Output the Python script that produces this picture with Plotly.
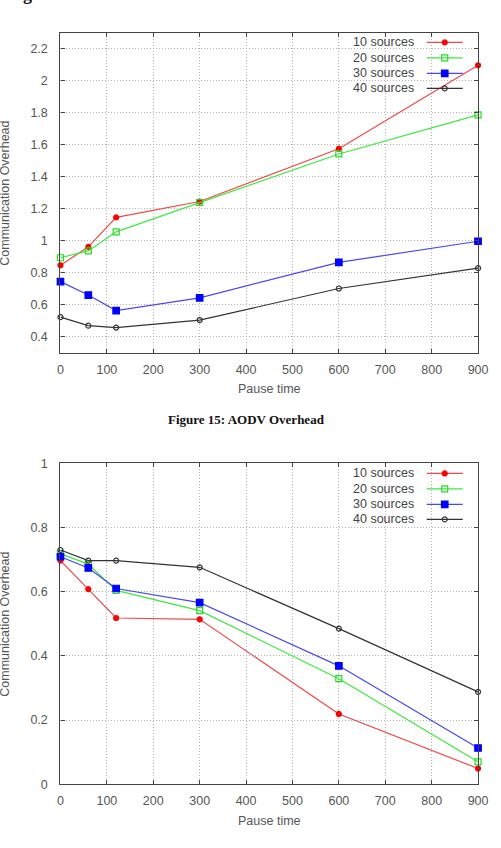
import plotly.graph_objects as go

# ---------------- data ----------------
pause_time = [0, 60, 120, 300, 600, 900]
series_names = ["10 sources", "20 sources", "30 sources", "40 sources"]

aodv_10 = [0.847, 0.962, 1.146, 1.245, 1.575, 2.096]
aodv_20 = [0.894, 0.937, 1.056, 1.239, 1.542, 1.786]
aodv_30 = [0.745, 0.661, 0.564, 0.644, 0.865, 0.997]
aodv_40 = [0.523, 0.470, 0.458, 0.505, 0.702, 0.829]

dsr_10 = [0.697, 0.608, 0.518, 0.514, 0.219, 0.049]
dsr_20 = [0.718, 0.686, 0.604, 0.541, 0.329, 0.070]
dsr_30 = [0.709, 0.674, 0.610, 0.566, 0.369, 0.113]
dsr_40 = [0.730, 0.697, 0.697, 0.676, 0.485, 0.288]

x_ticks = [0, 100, 200, 300, 400, 500, 600, 700, 800, 900]
top_y_ticks = [0.4, 0.6, 0.8, 1.0, 1.2, 1.4, 1.6, 1.8, 2.0, 2.2]
top_y_labels = ["0.4", "0.6", "0.8", "1", "1.2", "1.4", "1.6", "1.8", "2", "2.2"]
bot_y_ticks = [0, 0.2, 0.4, 0.6, 0.8, 1.0]
bot_y_labels = ["0", "0.2", "0.4", "0.6", "0.8", "1"]

x_title = "Pause time"
y_title = "Communication Overhead"
caption = "Figure 15: AODV Overhead"

# ---------------- styles ----------------
W, H = 501, 848
FONT = "Liberation Sans"
TXT = "#555555"
styles = [
    dict(line="#f04848", mcolor="#ff0000", symbol="circle", size=5),
    dict(line="#3ee83e", mcolor="#22dd22", symbol="square-open", size=6),
    dict(line="#4848f0", mcolor="#0000ff", symbol="square", size=6.5),
    dict(line="#333333", mcolor="#333333", symbol="circle-open", size=5),
]

def px_x(p):
    return p / W

def px_y(p):
    return 1 - p / H

plot_left, plot_right = 59, 487.7
top_box = (26, 351.7)
bot_box = (464, 790.3)

fig = go.Figure()

for ax_suffix, data in (("", [aodv_10, aodv_20, aodv_30, aodv_40]),
                        ("2", [dsr_10, dsr_20, dsr_30, dsr_40])):
    for name, vals, st in zip(series_names, data, styles):
        fig.add_trace(go.Scatter(
            x=pause_time, y=vals, name=name, mode="lines+markers",
            xaxis="x" + ax_suffix, yaxis="y" + ax_suffix,
            line=dict(color=st["line"], width=1.2),
            marker=dict(symbol=st["symbol"], size=st["size"], color=st["mcolor"],
                        line=dict(color=st["mcolor"], width=1.2)),
            showlegend=False, cliponaxis=False,
        ))

# ----- manual gnuplot-style legends (pixel overlay axis) -----
legend_rows = {"top": [36, 51.7, 67.4, 82.7], "bot": [474.3, 490, 505.7, 521]}
annotations = []
for key, rows in legend_rows.items():
    for name, st, yy in zip(series_names, styles, rows):
        fig.add_trace(go.Scatter(
            x=[435, 472], y=[yy, yy], mode="lines", xaxis="x3", yaxis="y3",
            line=dict(color=st["line"], width=1.2), showlegend=False, hoverinfo="skip"))
        fig.add_trace(go.Scatter(
            x=[453.5], y=[yy], mode="markers", xaxis="x3", yaxis="y3",
            marker=dict(symbol=st["symbol"], size=st["size"], color=st["mcolor"],
                        line=dict(color=st["mcolor"], width=1.2)),
            showlegend=False, hoverinfo="skip"))
        annotations.append(dict(
            text=name, x=px_x(424), y=px_y(yy), xref="paper", yref="paper",
            xanchor="right", yanchor="middle", showarrow=False,
            font=dict(family=FONT, size=12.5, color="#444444")))

# axis titles
for box in (top_box, bot_box):
    annotations.append(dict(
        text=x_title, x=px_x((plot_left + plot_right) / 2), y=px_y(box[1] + 37),
        xref="paper", yref="paper", xanchor="center", yanchor="middle",
        showarrow=False, font=dict(family=FONT, size=12.5, color=TXT)))
    annotations.append(dict(
        text=y_title, x=px_x(2), y=px_y((box[0] + box[1]) / 2),
        xref="paper", yref="paper", xanchor="center", yanchor="middle",
        textangle=-90, showarrow=False, font=dict(family=FONT, size=12.5, color=TXT)))

annotations.append(dict(
    text="<b>" + caption + "</b>", x=px_x(250), y=px_y(419.5), xref="paper", yref="paper",
    xanchor="center", yanchor="middle", showarrow=False,
    font=dict(family="Liberation Serif", size=13, color="#111111")))

annotations.append(dict(
    text="<b>g</b>", x=px_x(25.5), y=px_y(-13), xref="paper", yref="paper",
    xanchor="center", yanchor="middle", showarrow=False,
    font=dict(family="Liberation Serif", size=18, color="#111111")))

common_x = dict(
    range=[0, 900], tickvals=x_ticks, ticks="inside", ticklen=4, tickcolor="#444444",
    showline=True, mirror="ticks", linecolor="#444444", linewidth=1.3,
    showgrid=True, gridcolor="#b4b4b4", griddash="1px,2px", gridwidth=1, zeroline=False,
    tickfont=dict(family=FONT, size=12.5, color=TXT), ticklabelstandoff=5,
    domain=[px_x(plot_left), px_x(plot_right)],
)
common_y = dict(
    ticks="inside", ticklen=4, tickcolor="#444444",
    showline=True, mirror="ticks", linecolor="#444444", linewidth=1.3,
    showgrid=True, gridcolor="#b4b4b4", griddash="1px,2px", gridwidth=1, zeroline=False,
    tickfont=dict(family=FONT, size=12.5, color=TXT), ticklabelstandoff=9,
)

fig.update_layout(
    width=W, height=H, margin=dict(l=0, r=0, t=0, b=0),
    paper_bgcolor="white", plot_bgcolor="rgba(0,0,0,0)", showlegend=False,
    xaxis=dict(common_x, anchor="y"),
    yaxis=dict(common_y, anchor="x", range=[0.3, 2.3], tickvals=top_y_ticks,
               ticktext=top_y_labels, domain=[px_y(top_box[1]), px_y(top_box[0])]),
    xaxis2=dict(common_x, anchor="y2"),
    yaxis2=dict(common_y, anchor="x2", range=[0, 1], tickvals=bot_y_ticks,
                ticktext=bot_y_labels, domain=[px_y(bot_box[1]), px_y(bot_box[0])]),
    xaxis3=dict(domain=[0, 1], range=[0, W], visible=False, anchor="y3", fixedrange=True),
    yaxis3=dict(domain=[0, 1], range=[H, 0], visible=False, anchor="x3", fixedrange=True),
    annotations=annotations,
)

fig.write_html(
    "out.html",
    config={"responsive": False, "displayModeBar": False},
    post_script="document.body.style.margin='0';document.body.style.padding='0';"
                "document.body.style.overflow='hidden';",
)
